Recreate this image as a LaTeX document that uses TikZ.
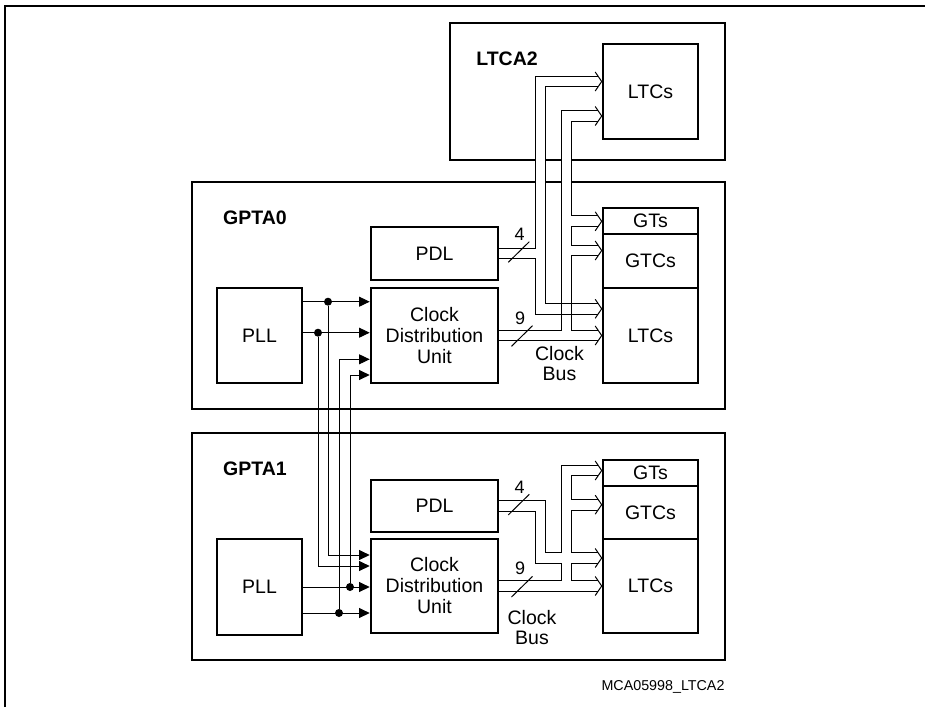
\documentclass[tikz,border=0pt]{standalone}
\usepackage{fontspec}
\setmainfont{Liberation Sans}
\usetikzlibrary{arrows.meta}
\begin{document}
\begin{tikzpicture}[x=1pt,y=-1pt,
	areabox/.style={draw,line width=2.6pt,inner sep=0pt},
	block/.style={draw,line width=2.6pt,inner sep=0pt,align=center,font=\fontsize{19.5}{21}\selectfont},
	title/.style={inner sep=0pt,font=\fontsize{19.5}{21}\selectfont\bfseries},
	txt/.style={inner sep=0pt,align=center,font=\fontsize{19.5}{20}\selectfont},
	num/.style={inner sep=0pt,font=\fontsize{18}{20}\selectfont},
	wire/.style={line width=1pt},
	sig/.style={line width=1pt,-{Triangle[length=10.7pt,width=10pt]}},
	bus/.style={line width=1pt,double=white,double distance=9.7pt,line join=miter},
	busarrow/.pic={\draw[line width=1pt,line join=miter] (-2.8,-9.5) -- (3.7,0) -- (-2.8,9.5);},
	dot/.style={circle,fill,inner sep=0pt,minimum size=8pt}]
			\useasboundingbox (0,0) rectangle (925,707);
			\draw[line width=2pt] (4.5,707) -- (4.5,6) -- (925,6);
			% LTCA2
			\node[areabox,minimum width=275,minimum height=137] (ltca2) at (587.5,91.5) {};
			\node[title] (ltca2lbl) at (507,59) {LTCA2};
			\node[block,minimum width=95,minimum height=95] (ltcs2) at (650.5,91.5) {LTCs};
			% GPTA0
			\node[areabox,minimum width=533,minimum height=227] (gpta0) at (458.5,295.5) {};
			\node[title] (gpta0lbl) at (255,217.5) {GPTA0};
			\node[block,minimum width=85,minimum height=95] (pll0) at (259.5,335.5) {PLL};
			\node[block,minimum width=127,minimum height=53] (pdl0) at (434.5,253.5) {PDL};
			\node[block,minimum width=127,minimum height=95] (cdu0) at (434.5,335.5) {Clock\\Distribution\\Unit};
			\node[block,minimum width=95,minimum height=26] (gts0) at (650.5,221) {GTs};
			\node[block,minimum width=95,minimum height=54] (gtcs0) at (650.5,261) {GTCs};
			\node[block,minimum width=95,minimum height=95] (ltcs0) at (650.5,335.5) {LTCs};
			\node[txt] (clk0) at (559.5,364) {Clock\\Bus};
			\node[num] (n4a) at (519.5,234) {4};
			\node[num] (n9a) at (520,318) {9};
			% GPTA1
			\node[areabox,minimum width=533,minimum height=227] (gpta1) at (458.5,546.5) {};
			\node[title] (gpta1lbl) at (255,469) {GPTA1};
			\node[block,minimum width=85,minimum height=96] (pll1) at (259.5,587) {PLL};
			\node[block,minimum width=127,minimum height=52] (pdl1) at (434.5,506) {PDL};
			\node[block,minimum width=127,minimum height=94] (cdu1) at (434.5,586) {Clock\\Distribution\\Unit};
			\node[block,minimum width=95,minimum height=26] (gts1) at (650.5,473) {GTs};
			\node[block,minimum width=95,minimum height=53] (gtcs1) at (650.5,512.5) {GTCs};
			\node[block,minimum width=95,minimum height=94] (ltcs1) at (650.5,586) {LTCs};
			\node[txt] (clk1) at (532,628) {Clock\\Bus};
			\node[num] (n4b) at (519.5,487.5) {4};
			\node[num] (n9b) at (520,568.5) {9};
			\node[inner sep=0pt,anchor=base,font=\fontsize{14.3}{16}\selectfont] (figid) at (663,690.5) {MCA05998\_LTCA2};
			% bus ends
			\coordinate (a0top) at (598,81.5);
			\coordinate (a0ltc) at (598,308.8);
			\coordinate (b0top) at (598,116);
			\coordinate (b0gts) at (598,221.3);
			\coordinate (b0gtc) at (598,250.5);
			\coordinate (b0ltc) at (598,335.5);
			\coordinate (c1gts) at (598,470.5);
			\coordinate (c1gtc) at (598,504.7);
			\coordinate (c1lta) at (598,558);
			\coordinate (c1ltb) at (598,586);
			% clock buses
			\draw[bus] (b0top) -| (566.5,335.5) (cdu0.east) -- (b0ltc)
				(566.5,221.3) -- (b0gts) (566.5,250.5) -- (b0gtc);
			\draw[bus] (a0top) -| (540.5,308.8) -- (a0ltc) (pdl0.east) -- (540.5,253.5);
			\draw[wire] (561.15,303.45) -- (561.15,314.15) (571.85,303.45) -- (571.85,314.15);
			\draw[bus] (c1gts) -| (566.5,586) (cdu1.east) -- (c1ltb)
				(566.5,504.7) -- (c1gtc) (pdl1.east) -| (540.5,558) -- (c1lta);
			\foreach \c in {a0top,a0ltc,b0top,b0gts,b0gtc,b0ltc,c1gts,c1gtc,c1lta,c1ltb}
				\pic at (\c) {busarrow};
			\foreach \p in {(518.8,252),(522,336),(518.8,504.6),(522,586.7)}
				\draw[wire] \p ++(-10.5,10.3) -- ++(21,-20.6);
			% PLL outputs
			\node[dot] (j0a) at (328,301.7) {};
			\node[dot] (j0b) at (318,332.7) {};
			\node[dot] (j1a) at (350,587) {};
			\node[dot] (j1b) at (339,613) {};
			\coordinate (k0c) at (0,359.3);
			\coordinate (k0d) at (0,375);
			\coordinate (k1a) at (0,555);
			\coordinate (k1b) at (0,566);
			\draw[sig] (pll0.east |- j0a) -- (cdu0.west |- j0a);
			\draw[sig] (pll0.east |- j0b) -- (cdu0.west |- j0b);
			\draw[sig] (pll1.east |- j1a) -- (cdu1.west |- j1a);
			\draw[sig] (pll1.east |- j1b) -- (cdu1.west |- j1b);
			\draw[sig] (j0a) |- (cdu1.west |- k1a);
			\draw[sig] (j0b) |- (cdu1.west |- k1b);
			\draw[sig] (j1a) |- (cdu0.west |- k0d);
			\draw[sig] (j1b) |- (cdu0.west |- k0c);
		\end{tikzpicture}
\end{document}
